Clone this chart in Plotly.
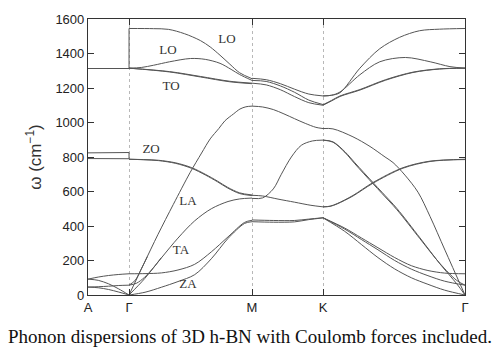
import plotly.graph_objects as go

# ---------------- data ----------------
path_labels = ["A", "Γ", "M", "K", "Γ"]
path_pos = [0.0, 0.289, 1.155, 1.655, 2.655]   # proportional path lengths

# A–Γ  (t = 0 at A, t = 1 at Γ), ω in cm^-1
AG_TO   = [(0, 1313), (1, 1313)]
AG_ZO_L = [(0, 824), (1, 826)]
AG_ZO   = [(0, 791), (1, 790)]
AG_ZO2  = [(0, 92), (0.25, 104), (0.5, 113), (0.75, 119), (1, 123)]
AG_ZA   = [(0, 92), (0.25, 85), (0.5, 65), (0.75, 35), (1, 0)]
AG_SH   = [(0, 46), (0.25, 48), (0.5, 51), (0.75, 55), (1, 57)]
AG_TA   = [(0, 46), (0.25, 42), (0.5, 32), (0.75, 17), (1, 0)]

# Γ–M  (t = 0 at Γ, t = 1 at M)
GM_LO1 = [(0, 1545), (0.2, 1544), (0.32, 1540), (0.45, 1515), (0.58, 1475), (0.66, 1438),
          (0.74, 1390), (0.82, 1338), (0.9, 1288), (1, 1254)]
GM_LO2 = [(0, 1315), (0.1, 1319), (0.2, 1332), (0.33, 1352), (0.5, 1371), (0.62, 1366),
          (0.74, 1343), (0.83, 1308), (0.9, 1278), (1, 1244)]
GM_TO1 = [(0, 1315), (0.33, 1295), (0.58, 1267), (0.82, 1239), (1, 1228)]
GM_TO2 = [(0, 1315), (0.33, 1293), (0.58, 1264), (0.82, 1236), (1, 1225)]
GM_ZO1 = [(0, 787), (0.12, 785), (0.24, 781), (0.38, 766), (0.51, 738), (0.62, 700),
          (0.72, 660), (0.8, 625), (0.9, 592), (1, 580)]
GM_ZO2 = [(0, 787), (0.12, 784), (0.24, 779), (0.38, 763), (0.51, 734), (0.62, 696),
          (0.72, 656), (0.8, 621), (0.9, 588), (1, 576)]
GM_LA1 = [(0, 0), (0.12, 180), (0.236, 352), (0.36, 525), (0.496, 709), (0.59, 823),
          (0.66, 905), (0.73, 965), (0.78, 1010), (0.85, 1050), (0.902, 1078), (0.95, 1091), (1, 1095)]
GM_LA2 = [(0, 57), (0.05, 85), (0.1, 152), (0.15, 224)]
GM_TA1 = [(0, 0), (0.127, 95), (0.263, 215), (0.398, 330), (0.534, 430), (0.669, 500),
          (0.805, 542), (0.9, 557), (1, 562)]
GM_TA2 = [(0, 57), (0.06, 68), (0.127, 103), (0.2, 160), (0.263, 217)]
GM_ZO3 = [(0, 123), (0.13, 124), (0.263, 128), (0.398, 145), (0.534, 178), (0.669, 250),
          (0.805, 337), (0.94, 421), (1, 433)]
GM_ZA  = [(0, 0), (0.13, 16), (0.263, 45), (0.398, 78), (0.534, 118), (0.669, 210),
          (0.805, 328), (0.94, 415), (1, 425)]

# M–K  (t = 0 at M, t = 1 at K)
MK_LO1 = [(0, 1256), (0.2, 1248), (0.4, 1225), (0.6, 1193), (0.8, 1165), (1, 1154)]
MK_LO2 = [(0, 1244), (0.2, 1238), (0.4, 1212), (0.6, 1175), (0.8, 1130), (1, 1104)]
MK_TO  = [(0, 1228), (0.2, 1218), (0.4, 1190), (0.6, 1150), (0.8, 1115), (1, 1100)]
MK_LA  = [(0, 1095), (0.15, 1090), (0.3, 1075), (0.45, 1050), (0.6, 1022), (0.75, 995),
          (0.9, 972), (1, 965)]
MK_TA  = [(0, 560), (0.15, 563), (0.3, 615), (0.413, 700), (0.554, 800), (0.695, 868),
          (0.85, 893), (1, 898)]
MK_ZO  = [(0, 578), (0.15, 574), (0.366, 556), (0.6, 538), (0.83, 520), (1, 511)]
MK_ZO3 = [(0, 435), (0.3, 432), (0.6, 432), (0.8, 440), (1, 448)]
MK_ZA  = [(0, 425), (0.3, 422), (0.6, 424), (0.8, 437), (1, 447)]

# K–Γ  (t = 0 at K, t = 1 at Γ)
KG_LO1 = [(0, 1154), (0.06, 1158), (0.12, 1173), (0.26, 1315), (0.4, 1428), (0.54, 1494),
          (0.68, 1532), (0.82, 1541), (1, 1545)]
KG_LO2 = [(0, 1154), (0.06, 1158), (0.12, 1177), (0.26, 1277), (0.4, 1352), (0.58, 1377),
          (0.755, 1352), (0.894, 1324), (1, 1315)]
KG_TO1 = [(0, 1103), (0.06, 1128), (0.12, 1154), (0.26, 1191), (0.44, 1248), (0.634, 1292),
          (0.82, 1311), (1, 1315)]
KG_TO2 = [(0, 1100), (0.06, 1125), (0.12, 1151), (0.26, 1188), (0.44, 1245), (0.634, 1290),
          (0.82, 1310), (1, 1315)]
KG_LA  = [(0, 965), (0.07, 963), (0.211, 917), (0.331, 861), (0.437, 800), (0.493, 768),
          (0.577, 695), (0.669, 596), (0.754, 455), (0.859, 260), (1, 0)]
KG_TA1 = [(0, 898), (0.07, 888), (0.155, 830), (0.225, 766), (0.352, 652), (0.415, 596),
          (0.521, 501), (0.683, 331), (0.824, 180), (0.941, 66), (1, 0)]
KG_TA2 = [(0, 898), (0.07, 886), (0.155, 826), (0.225, 760), (0.352, 645), (0.415, 589),
          (0.521, 494), (0.683, 326), (0.824, 182), (0.941, 85), (1, 57)]
KG_ZO1 = [(0, 511), (0.05, 515), (0.1, 530), (0.211, 577), (0.352, 652), (0.563, 738),
          (0.754, 776), (1, 785)]
KG_ZO2 = [(0, 511), (0.05, 514), (0.1, 528), (0.211, 574), (0.352, 648), (0.563, 735),
          (0.754, 774), (1, 787)]
KG_ZO3 = [(0, 448), (0.153, 388), (0.27, 331), (0.387, 274), (0.505, 217), (0.622, 170),
          (0.739, 142), (0.857, 127), (1, 123)]
KG_SH  = [(0, 448), (0.153, 382), (0.27, 322), (0.387, 262), (0.505, 200), (0.622, 150),
          (0.739, 112), (0.857, 80), (1, 57)]
KG_ZA  = [(0, 447), (0.153, 369), (0.27, 293), (0.387, 217), (0.505, 151), (0.622, 100),
          (0.739, 62), (0.857, 28), (1, 0)]

# LO–TO discontinuities at Γ
GAMMA_LO_SPLIT = [1313, 1545]
GAMMA_ZO_SPLIT = [790, 826]

# branch labels
label_text = ["LO", "LO", "TO", "ZO", "LA", "TA", "ZA"]
label_x = [0.979, 0.563, 0.585, 0.444, 0.704, 0.655, 0.704]
label_y = [1481, 1418, 1209, 840, 539, 255, 57]

y_ticks = [0, 200, 400, 600, 800, 1000, 1200, 1400, 1600]
caption = "Phonon dispersions of 3D h-BN with Coulomb forces included."

# ---------------- figure ----------------
segments = [
    (0, 1, [AG_TO, AG_ZO_L, AG_ZO, AG_ZO2, AG_ZA, AG_SH, AG_TA]),
    (1, 2, [GM_LO1, GM_LO2, GM_TO1, GM_TO2, GM_ZO1, GM_ZO2, GM_LA1, GM_LA2,
            GM_TA1, GM_TA2, GM_ZO3, GM_ZA]),
    (2, 3, [MK_LO1, MK_LO2, MK_TO, MK_LA, MK_TA, MK_ZO, MK_ZO3, MK_ZA]),
    (3, 4, [KG_LO1, KG_LO2, KG_TO1, KG_TO2, KG_LA, KG_TA1, KG_TA2, KG_ZO1, KG_ZO2,
            KG_ZO3, KG_SH, KG_ZA]),
]

LINE = dict(color="#555555", width=1)
fig = go.Figure()
for a, b, branches in segments:
    x0, x1 = path_pos[a], path_pos[b]
    for br in branches:
        xs = [x0 + t * (x1 - x0) for t, _ in br]
        ys = [w for _, w in br]
        fig.add_trace(go.Scatter(x=xs, y=ys, mode="lines",
                                 line=dict(LINE, shape="spline", smoothing=0.9),
                                 hoverinfo="skip", showlegend=False))

for split in (GAMMA_LO_SPLIT, GAMMA_ZO_SPLIT):
    fig.add_trace(go.Scatter(x=[path_pos[1]] * 2, y=split, mode="lines", line=LINE,
                             hoverinfo="skip", showlegend=False))

fig.add_trace(go.Scatter(x=label_x, y=label_y, mode="text", text=label_text,
                         textfont=dict(family="Liberation Serif", size=13, color="#333"),
                         hoverinfo="skip", showlegend=False))

fig.add_annotation(text=caption, xref="paper", yref="paper", x=0.4297, y=-0.151,
                   xanchor="center", yanchor="middle", showarrow=False,
                   font=dict(family="Liberation Serif", size=19, color="#111"))

axis_common = dict(showline=True, linecolor="#333", linewidth=1.2, mirror="allticks",
                   ticks="inside", ticklen=6, tickcolor="#333", zeroline=False,
                   tickfont=dict(family="Liberation Sans", size=13, color="#222"))

fig.update_xaxes(range=[path_pos[0], path_pos[-1]], tickvals=path_pos, ticktext=path_labels,
                 showgrid=True, gridcolor="#b8b8b8", griddash="dot", gridwidth=1,
                 **axis_common)
fig.update_yaxes(range=[0, 1600], tickvals=y_ticks, showgrid=False,
                 title=dict(text="ω (cm<sup>−1</sup>)", standoff=9,
                            font=dict(family="Liberation Sans", size=17, color="#333")),
                 **axis_common)

fig.update_layout(width=498, height=347, margin=dict(l=88, r=33, t=13, b=52),
                  plot_bgcolor="white", paper_bgcolor="white")

fig.write_html("out.html")
